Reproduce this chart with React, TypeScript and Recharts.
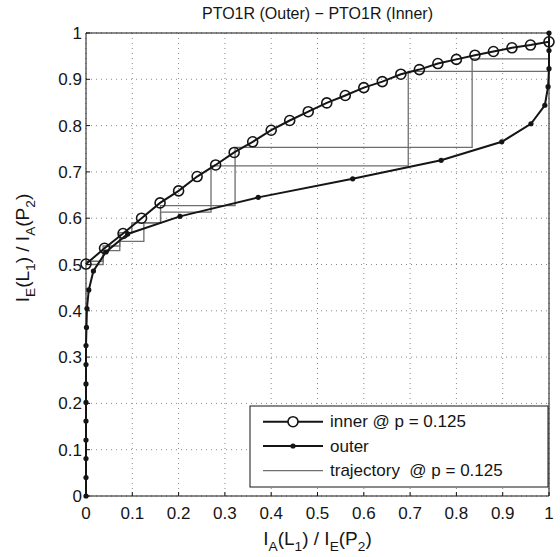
import React from "react";
import {
  LineChart,
  Line,
  XAxis,
  YAxis,
  CartesianGrid,
  Customized,
} from "recharts";

// EXIT chart: inner vs outer transfer curves plus the decoding trajectory.
const TICKS = [0, 0.1, 0.2, 0.3, 0.4, 0.5, 0.6, 0.7, 0.8, 0.9, 1];
const TICK_LABELS = ["0", "0.1", "0.2", "0.3", "0.4", "0.5", "0.6", "0.7", "0.8", "0.9", "1"];

const INNER_X = [
  0, 0.04, 0.08, 0.12, 0.16, 0.2, 0.24, 0.28, 0.32, 0.36, 0.4, 0.44, 0.48,
  0.52, 0.56, 0.6, 0.64, 0.68, 0.72, 0.76, 0.8, 0.84, 0.88, 0.92, 0.96, 1,
];
const INNER_Y = [
  0.501, 0.535, 0.567, 0.6, 0.633, 0.659, 0.69, 0.715, 0.742, 0.765, 0.79,
  0.811, 0.83, 0.849, 0.865, 0.882, 0.895, 0.911, 0.921, 0.934, 0.943, 0.952,
  0.96, 0.968, 0.974, 0.981,
];

const OUTER_X = [
  0, 0, 0, 0, 0, 0, 0, 0, 0, 0.001, 0.002, 0.006, 0.016, 0.043, 0.09, 0.203,
  0.372, 0.576, 0.767, 0.898, 0.961, 0.991, 0.998, 1, 1, 1,
];
const OUTER_Y = [
  0, 0.04, 0.081, 0.121, 0.162, 0.202, 0.242, 0.284, 0.325, 0.364, 0.405,
  0.445, 0.486, 0.527, 0.566, 0.604, 0.645, 0.685, 0.725, 0.765, 0.804, 0.844,
  0.884, 0.923, 0.962, 1,
];

// two interleaved staircases of the simulated trajectory
const TRAJ_A_X = [0, 0.037, 0.037, 0.073, 0.073, 0.099, 0.099, 0.161, 0.161, 0.322, 0.322, 0.834, 0.834, 1];
const TRAJ_A_Y = [0.5, 0.5, 0.54, 0.54, 0.569, 0.569, 0.59, 0.59, 0.627, 0.627, 0.753, 0.753, 0.944, 0.944];
const TRAJ_B_X = [0, 0.037, 0.037, 0.073, 0.073, 0.125, 0.125, 0.161, 0.161, 0.27, 0.27, 0.696, 0.696, 1];
const TRAJ_B_Y = [0.507, 0.507, 0.53, 0.53, 0.55, 0.55, 0.59, 0.59, 0.613, 0.613, 0.713, 0.713, 0.917, 0.917];

const zip = (xs: number[], ys: number[]) => xs.map((x, i) => ({ x, y: ys[i] }));

const inner = zip(INNER_X, INNER_Y);
const outer = zip(OUTER_X, OUTER_Y);
const trajA = zip(TRAJ_A_X, TRAJ_A_Y);
const trajB = zip(TRAJ_B_X, TRAJ_B_Y);

const FONT = "'Liberation Sans', Arial, Helvetica, sans-serif";
const INK = "#151515";
const TRAJ = "#6e6e6e";

const tickFmt = (v: number) => TICK_LABELS[TICKS.indexOf(v)] ?? String(v);

// text with subscripts: [main, sub] pairs
function SubText({ parts, size }: { parts: Array<[string, string]>; size: number }) {
  const out: React.ReactNode[] = [];
  parts.forEach(([main, sub], i) => {
    out.push(
      <tspan key={`m${i}`} dy={i === 0 ? 0 : -size * 0.3}>
        {main}
      </tspan>,
    );
    if (sub) {
      out.push(
        <tspan key={`s${i}`} fontSize={size * 0.72} dy={size * 0.3}>
          {sub}
        </tspan>,
      );
    }
  });
  return <>{out}</>;
}

function Decorations() {
  const rows = [421.7, 446, 470.7];
  return (
    <g fontFamily={FONT} fill={INK}>
      <text x={317.5} y={19} textAnchor="middle" fontSize={16}>
        PTO1R (Outer) − PTO1R (Inner)
      </text>
      <text x={317.5} y={545} textAnchor="middle" fontSize={19}>
        <SubText
          size={19}
          parts={[["I", "A"], ["(L", "1"], [") / I", "E"], ["(P", "2"], [")", ""]]}
        />
      </text>
      <text x={29} y={248} textAnchor="middle" fontSize={19} transform="rotate(-90, 29, 248)">
        <SubText
          size={19}
          parts={[["I", "E"], ["(L", "1"], [") / I", "A"], ["(P", "2"], [")", ""]]}
        />
      </text>

      <rect x={250} y={406} width={298} height={81} fill="#fff" stroke={INK} strokeWidth={1} />
      <line x1={263} x2={323} y1={rows[0]} y2={rows[0]} stroke={INK} strokeWidth={2} />
      <circle cx={293} cy={rows[0]} r={5} fill="#fff" stroke={INK} strokeWidth={1.6} />
      <line x1={263} x2={323} y1={rows[1]} y2={rows[1]} stroke={INK} strokeWidth={2} />
      <circle cx={293} cy={rows[1]} r={2.6} fill={INK} />
      <line x1={263} x2={323} y1={rows[2]} y2={rows[2]} stroke={TRAJ} strokeWidth={1.3} />
      <text x={330} y={rows[0]} dominantBaseline="central" fontSize={17}>
        inner @ p = 0.125
      </text>
      <text x={330} y={rows[1]} dominantBaseline="central" fontSize={17}>
        outer
      </text>
      <text x={330} y={rows[2]} dominantBaseline="central" fontSize={17} xmlSpace="preserve">
        trajectory  @ p = 0.125
      </text>
    </g>
  );
}

export default function App() {
  const tickStyle = { fontSize: 17, fill: INK, fontFamily: FONT };
  return (
    <div style={{ position: "absolute", left: 0, top: 0, background: "#fff" }}>
      <LineChart width={560} height={557} margin={{ top: 32, right: 10, bottom: 60, left: 85 }}>
        <CartesianGrid stroke="#8a8a8a" strokeDasharray="1 4" />
        <XAxis
          type="number"
          dataKey="x"
          domain={[0, 1]}
          ticks={TICKS}
          tickFormatter={tickFmt}
          height={1}
          tickSize={-4}
          tickMargin={15}
          tick={tickStyle}
          axisLine={{ stroke: INK }}
          tickLine={{ stroke: INK }}
          interval={0}
        />
        <XAxis
          xAxisId="top"
          orientation="top"
          type="number"
          domain={[0, 1]}
          ticks={TICKS}
          height={1}
          tickSize={-4}
          tick={false}
          interval={0}
          axisLine={{ stroke: INK }}
          tickLine={{ stroke: INK }}
        />
        <YAxis
          type="number"
          domain={[0, 1]}
          ticks={TICKS}
          tickFormatter={tickFmt}
          width={1}
          tickSize={-4}
          tickMargin={8}
          tick={tickStyle}
          interval={0}
          axisLine={{ stroke: INK }}
          tickLine={{ stroke: INK }}
        />
        <YAxis
          yAxisId="right"
          orientation="right"
          type="number"
          domain={[0, 1]}
          ticks={TICKS}
          width={1}
          tickSize={-4}
          tick={false}
          interval={0}
          axisLine={{ stroke: INK }}
          tickLine={{ stroke: INK }}
        />
        <Line
          data={trajB}
          dataKey="y"
          type="linear"
          stroke={TRAJ}
          strokeWidth={1.3}
          dot={false}
          isAnimationActive={false}
        />
        <Line
          data={trajA}
          dataKey="y"
          type="linear"
          stroke={TRAJ}
          strokeWidth={1.3}
          dot={false}
          isAnimationActive={false}
        />
        <Line
          data={outer}
          dataKey="y"
          type="linear"
          stroke={INK}
          strokeWidth={2}
          dot={{ r: 2.6, fill: INK, stroke: INK, strokeWidth: 0 }}
          isAnimationActive={false}
        />
        <Line
          data={inner}
          dataKey="y"
          type="linear"
          stroke={INK}
          strokeWidth={2}
          dot={{ r: 5, fill: "none", stroke: INK, strokeWidth: 1.6 }}
          isAnimationActive={false}
        />
        <Customized component={Decorations} />
      </LineChart>
    </div>
  );
}
